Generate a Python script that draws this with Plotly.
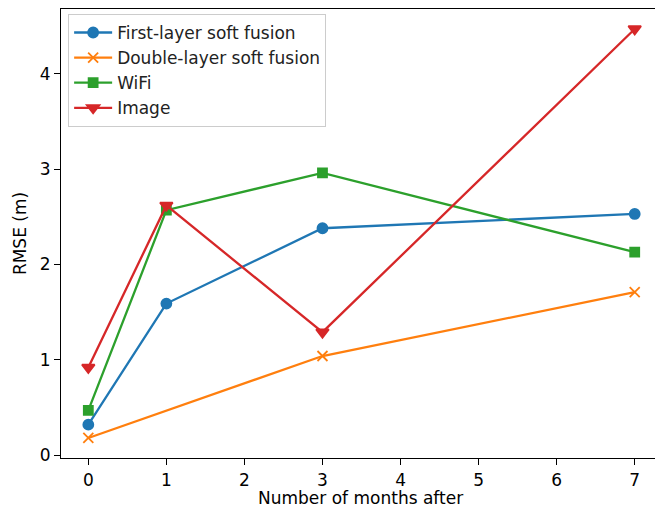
import plotly.graph_objects as go

months_first = [0, 1, 3, 7]
rmse_first = [0.32, 1.59, 2.38, 2.53]
months_double = [0, 3, 7]
rmse_double = [0.18, 1.04, 1.71]
months_wifi = [0, 1, 3, 7]
rmse_wifi = [0.47, 2.57, 2.96, 2.13]
months_image = [0, 1, 3, 7]
rmse_image = [0.92, 2.62, 1.29, 4.47]

series = [
    ("First-layer soft fusion", months_first, rmse_first, "#1f77b4", "circle", 10),
    ("Double-layer soft fusion", months_double, rmse_double, "#ff7f0e", "x-thin-open", 10),
    ("WiFi", months_wifi, rmse_wifi, "#2ca02c", "square", 9),
    ("Image", months_image, rmse_image, "#d62728", "triangle-down", 11),
]

fig = go.Figure()
for i, (name, xs, ys, color, sym, size) in enumerate(series):
    fig.add_trace(go.Scatter(
        x=xs, y=ys, name=name, mode="lines+markers",
        legendgroup=f"g{i}",
        line=dict(color=color, width=2.3),
        marker=dict(color=color, symbol=sym, size=size,
                    line=dict(color=color, width=1.8)),
    ))

font = "DejaVu Sans, sans-serif"
fig.update_layout(
    width=655, height=510,
    margin=dict(l=61, r=0, t=9, b=52),
    paper_bgcolor="white", plot_bgcolor="white",
    font=dict(family=font, size=17, color="black"),
    showlegend=True,
    legend=dict(
        x=0.012, y=0.989, xanchor="left", yanchor="top",
        bgcolor="rgba(255,255,255,0.8)", bordercolor="#cccccc", borderwidth=1,
        font=dict(family=font, size=17, color="#222"),
        tracegroupgap=0, itemwidth=38,
    ),
    xaxis=dict(
        range=[-0.35, 7.26], tickvals=[0, 1, 2, 3, 4, 5, 6, 7],
        showgrid=False, zeroline=False, automargin=False,
        showline=True, linecolor="black", linewidth=1.2, mirror=True,
        ticks="outside", ticklen=6, tickcolor="black",
        tickfont=dict(size=17),
    ),
    yaxis=dict(
        range=[-0.03, 4.68], tickvals=[0, 1, 2, 3, 4],
        showgrid=False, zeroline=False, automargin=False,
        showline=True, linecolor="black", linewidth=1.2,
        ticks="outside", ticklen=6, tickcolor="black",
        tickfont=dict(size=17),
        title=dict(text="RMSE (m)", font=dict(size=17), standoff=8),
    ),
    annotations=[dict(
        text="Number of months after", xref="paper", yref="paper",
        x=0.505, y=-0.1158, xanchor="center", yanchor="bottom",
        showarrow=False, font=dict(family=font, size=17, color="black"),
    )],
)

fig.write_html("out.html")
